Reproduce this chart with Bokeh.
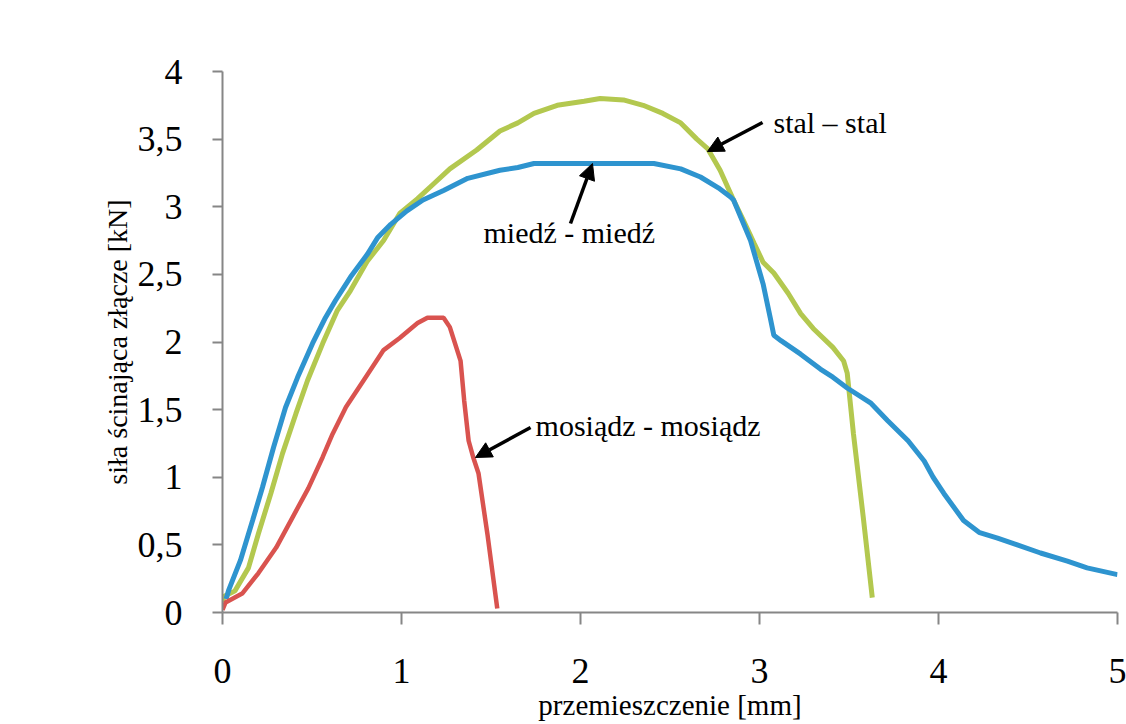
from bokeh.plotting import figure
from bokeh.models import Range1d, FixedTicker, Arrow, NormalHead, Label
from bokeh.embed import file_html
from bokeh.resources import INLINE

# ---- data ----
x_ticks = [0, 1, 2, 3, 4, 5]
y_ticks = [0, 0.5, 1, 1.5, 2, 2.5, 3, 3.5, 4]
y_tick_labels = ["0", "0,5", "1", "1,5", "2", "2,5", "3", "3,5", "4"]

# miedź - miedź (blue)
miedz_x = [0.02, 0.034, 0.10, 0.168, 0.223, 0.285, 0.352, 0.419, 0.503, 0.575, 0.631,
           0.715, 0.81, 0.866, 0.94, 1.03, 1.12, 1.235, 1.37, 1.55, 1.65, 1.74, 1.93,
           2.11, 2.41, 2.56, 2.67, 2.77, 2.84, 2.855, 2.95, 3.02, 3.06, 3.08, 3.12, 3.23,
           3.34, 3.41, 3.49, 3.62, 3.715, 3.83, 3.92, 3.97, 4.03, 4.14, 4.23, 4.33,
           4.44, 4.57, 4.72, 4.83, 5.0]
miedz_y = [0.10, 0.163, 0.385, 0.68, 0.924, 1.22, 1.516, 1.737, 1.989, 2.18, 2.307,
           2.48, 2.65, 2.77, 2.87, 2.97, 3.05, 3.12, 3.21, 3.27, 3.29, 3.32, 3.32,
           3.32, 3.32, 3.28, 3.22, 3.14, 3.07, 3.05, 2.75, 2.43, 2.18, 2.05, 2.01, 1.91,
           1.80, 1.74, 1.66, 1.55, 1.42, 1.27, 1.12, 1.00, 0.88, 0.68, 0.59, 0.55,
           0.50, 0.44, 0.38, 0.33, 0.28]

# stal - stal (green)
stal_x = [0.0, 0.01, 0.07, 0.145, 0.20, 0.27, 0.335, 0.41, 0.475, 0.56, 0.64, 0.715,
          0.81, 0.90, 0.99, 1.09, 1.18, 1.27, 1.42, 1.55, 1.65, 1.74, 1.87, 2.02, 2.11,
          2.24, 2.35, 2.46, 2.56, 2.65, 2.71, 2.78, 2.855, 2.91, 2.97, 3.02, 3.08, 3.16,
          3.23, 3.30, 3.41, 3.47, 3.49, 3.525, 3.58, 3.63]
stal_y = [0.08, 0.12, 0.16, 0.33, 0.58, 0.88, 1.175, 1.47, 1.715, 1.99, 2.23, 2.38,
          2.60, 2.75, 2.95, 3.06, 3.17, 3.28, 3.42, 3.56, 3.62, 3.69, 3.75, 3.78, 3.80,
          3.79, 3.75, 3.69, 3.62, 3.50, 3.43, 3.27, 3.05, 2.90, 2.73, 2.59, 2.51, 2.36,
          2.21, 2.10, 1.96, 1.86, 1.77, 1.32, 0.70, 0.11]

# mosiądz - mosiądz (red)
mosiadz_x = [0.0, 0.017, 0.11, 0.20, 0.30, 0.39, 0.48, 0.56, 0.615, 0.69, 0.80, 0.90,
             0.99, 1.09, 1.145, 1.235, 1.27, 1.33, 1.35, 1.375, 1.40, 1.43, 1.48, 1.535]
mosiadz_y = [0.02, 0.074, 0.14, 0.29, 0.48, 0.70, 0.92, 1.15, 1.32, 1.52, 1.74, 1.94,
             2.03, 2.14, 2.18, 2.18, 2.11, 1.86, 1.57, 1.27, 1.15, 1.03, 0.58, 0.03]

labels = ["stal \u2013 stal", "mied\u017a - mied\u017a", "mosi\u0105dz - mosi\u0105dz"]
label_pos_x = [3.078, 1.458, 1.749]
label_pos_y = [3.62, 2.81, 1.383]
arrow_from_x = [3.017, 1.944, 1.721]
arrow_from_y = [3.623, 2.876, 1.368]
arrow_to_x = [2.709, 2.067, 1.413]
arrow_to_y = [3.408, 3.32, 1.146]

FONT = "Liberation Serif"
AXIS_COLOR = "#868686"

p = figure(width=1126, height=724, x_range=Range1d(0, 5), y_range=Range1d(0, 4),
           output_backend="svg", toolbar_location=None,
           min_border_left=222, min_border_right=9, min_border_top=71,
           min_border_bottom=112)
p.outline_line_color = None
p.xgrid.visible = False
p.ygrid.visible = False
p.background_fill_color = "white"
p.border_fill_color = "white"

p.line(stal_x, stal_y, line_color="#b3c84f", line_width=5)
p.line(miedz_x, miedz_y, line_color="#2e94cf", line_width=5)
p.line(mosiadz_x, mosiadz_y, line_color="#d9534f", line_width=4.5)

for fx, fy, tx, ty in zip(arrow_from_x, arrow_from_y, arrow_to_x, arrow_to_y):
    p.add_layout(Arrow(end=NormalHead(size=16, fill_color="black", line_color="black"),
                       x_start=fx, y_start=fy, x_end=tx, y_end=ty,
                       line_color="black", line_width=3.5))

for t, lx, ly in zip(labels, label_pos_x, label_pos_y):
    p.add_layout(Label(x=lx, y=ly, text=t, text_font=FONT, text_font_size="30px",
                       text_color="black", text_baseline="middle", text_align="left"))

xa = p.xaxis[0]
xa.ticker = FixedTicker(ticks=x_ticks)
xa.axis_line_color = AXIS_COLOR
xa.axis_line_width = 2
xa.major_tick_line_color = AXIS_COLOR
xa.major_tick_line_width = 2
xa.major_tick_out = 12
xa.major_tick_in = 0
xa.minor_tick_line_color = None
xa.major_label_text_font = FONT
xa.major_label_text_font_size = "36px"
xa.major_label_text_color = "black"
xa.major_label_standoff = 34
xa.axis_label = "przemieszczenie [mm]"
xa.axis_label_text_font = FONT
xa.axis_label_text_font_size = "29px"
xa.axis_label_text_font_style = "normal"
xa.axis_label_text_color = "black"
xa.axis_label_standoff = 3

ya = p.yaxis[0]
ya.ticker = FixedTicker(ticks=y_ticks)
ya.major_label_overrides = {t: l for t, l in zip(y_ticks, y_tick_labels)}
ya.axis_line_color = AXIS_COLOR
ya.axis_line_width = 2
ya.major_tick_line_color = AXIS_COLOR
ya.major_tick_line_width = 2
ya.major_tick_out = 10
ya.major_tick_in = 0
ya.minor_tick_line_color = None
ya.major_label_text_font = FONT
ya.major_label_text_font_size = "36px"
ya.major_label_text_color = "black"
ya.major_label_standoff = 30
ya.axis_label = "si\u0142a \u015bcinaj\u0105ca z\u0142\u0105cze [kN]"
ya.axis_label_text_font = FONT
ya.axis_label_text_font_size = "28px"
ya.axis_label_text_font_style = "normal"
ya.axis_label_text_color = "black"
ya.axis_label_standoff = 2

open("out.html", "w").write(file_html(p, INLINE))
